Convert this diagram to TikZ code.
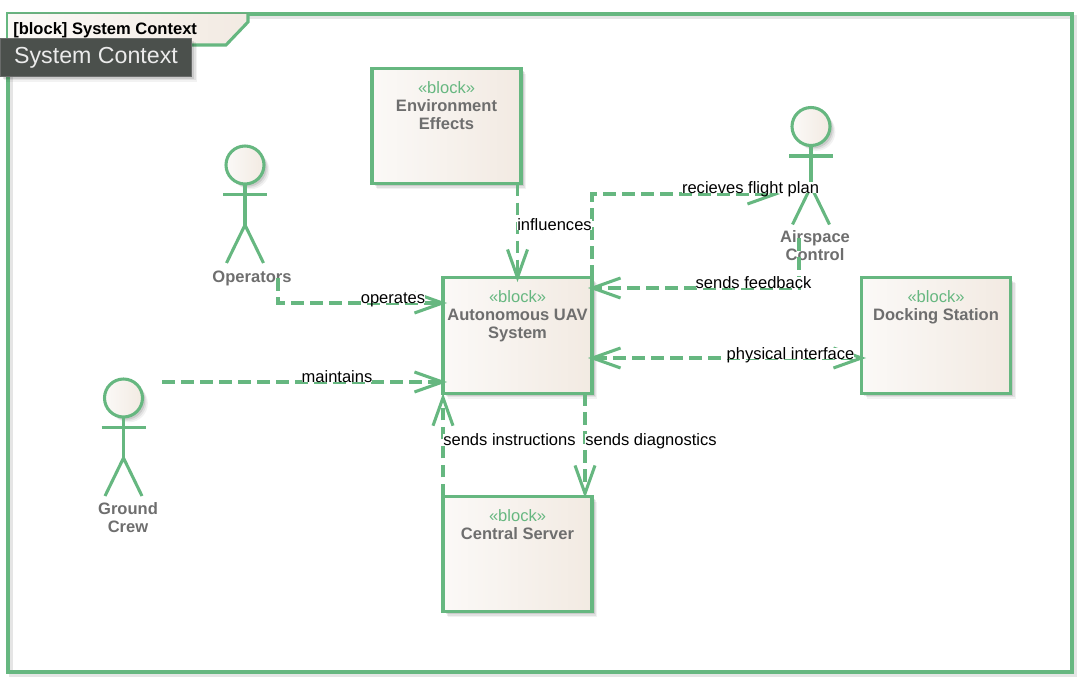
\documentclass[tikz,border=0pt]{standalone}
\usepackage{fontspec}
\setmainfont{Liberation Sans}
\usetikzlibrary{positioning}
\usetikzlibrary{arrows.meta}
\usetikzlibrary{shadows}
\definecolor{linegreen}{HTML}{66B780}
\definecolor{creamleft}{HTML}{FBF9F7}
\definecolor{creamright}{HTML}{F2EAE2}
\definecolor{namegray}{HTML}{6E6E6E}
\definecolor{tipdark}{HTML}{4B504C}
\tikzset{
	softshadow/.style={
		general shadow={shadow xshift=4pt, shadow yshift=-4pt, fill=black, opacity=0.05},
		general shadow={shadow xshift=3pt, shadow yshift=-3pt, fill=black, opacity=0.07},
		general shadow={shadow xshift=2pt, shadow yshift=-2pt, fill=black, opacity=0.10}},
	barb/.tip={Straight Barb[length=21pt,width=15pt,line width=2.3pt]},
	blockbox/.style={softshadow, draw=linegreen, line width=2.3pt, rectangle, outer sep=0pt, inner sep=0pt, left color=creamleft, right color=creamright, minimum width=111.75pt, minimum height=86.5pt},
	blocktext/.style={anchor=north, inner sep=0pt, yshift=-9.5pt, align=center, text=namegray, font=\bfseries\fontsize{12.4}{13.5}\selectfont},
	actorhead/.style={softshadow, draw=linegreen, line width=2.3pt, circle, outer sep=0pt, inner sep=0pt, left color=creamleft, right color=creamright, minimum size=28.5pt},
	actorname/.style={anchor=center, align=center, text=namegray, inner sep=0pt, font=\bfseries\fontsize{12.4}{13.5}\selectfont},
	flow/.style={draw=linegreen, line width=2.3pt, dash pattern=on 9.5pt off 4.75pt, -barb},
	bothflow/.style={flow, barb-barb},
	flowlabel/.style={anchor=base, fill=white, inner sep=0pt, text=black, text height=8.5pt, text depth=0pt, font=\fontsize{12.4}{13.5}\selectfont},
	stick/.pic={
		\node[actorhead] (-head) at (0,0) {};
		\draw[linegreen, line width=2.3pt] (-head.south) -- (0,60);
		\draw[linegreen, line width=2.3pt] (-22,29.5) -- (22,29.5);
		\draw[linegreen, line width=2.3pt] (-18.5,98) -- (0,60) -- (18.5,98);
	},
}
\newcommand{\stereo}{{\color{linegreen}\mdseries «block»}}
\begin{document}
\begin{tikzpicture}[x=0.75pt, y=-0.75pt]
	\useasboundingbox (0,0) rectangle (1080,684);

	\draw[black!10, line width=2.5pt] (11,17) rectangle (1075,675);
	\node[draw=linegreen, line width=2.3pt, rectangle, outer sep=0pt, minimum width=798pt, minimum height=493.5pt] (frame) at (540,343) {};
	\fill[left color=creamleft, right color=creamright] (frame.north west) -- (248,14) -- (248,22) -- (226,45) -- (8,45) -- cycle;
	\draw[linegreen, line width=2.3pt] (248,14) -- (248,22) -- (226,45) -- (8,45);
	\node[anchor=base west, inner sep=0pt, font=\bfseries\fontsize{12.4}{13.5}\selectfont] (frametitle) at (13,34.5) {[block] System Context};
	\node[softshadow, anchor=north west, fill=tipdark, draw=black!45!tipdark!70!white, line width=0.5pt, inner sep=0pt, minimum width=143.5pt, minimum height=28.5pt, text height=9pt, text depth=0pt, text=white!92!black, font=\fontsize{17.4}{18}\selectfont] (tooltip) at (0,38) {System Context};

	\node[blockbox, label={[blocktext]north:{\stereo\\Environment\\Effects}}] (env) at (446.5,126) {};
	\node[blockbox, label={[blocktext]north:{\stereo\\Autonomous UAV\\System}}] (uav) at (517.5,335.5) {};
	\node[blockbox, label={[blocktext]north:{\stereo\\Docking Station}}] (dock) at (936,335.5) {};
	\node[blockbox, label={[blocktext]north:{\stereo\\Central Server}}] (central) at (517.5,554) {};

	\pic (operators) at (245,165) {stick};
	\pic (airspace) at (811,126.5) {stick};
	\pic (crew) at (123.5,398) {stick};
	\node[actorname] (operatorsname) at (252,278) {Operators};
	\node[actorname] (airspacename) at (815,246) {Airspace\\Control};
	\node[actorname] (crewname) at (128,517.5) {Ground\\Crew};

	\coordinate (uavtop) at (517.5,282);
	\coordinate (opfoot) at (278,278);
	\coordinate (uavop) at (447,303);
	\coordinate (crewout) at (162,382);
	\coordinate (uavcrew) at (447,382);
	\coordinate (diagtop) at (585,393);
	\coordinate (diagend) at (585,498);
	\coordinate (airhand) at (780,194);
	\coordinate (airleg) at (799,238);
	\coordinate (uavfeed) at (588,288);
	\coordinate (uavphys) at (588,358);
	\coordinate (dockphys) at (866,358);

	\draw[flow] (env.south -| uavtop) -- (uavtop);
	\draw[flow] (opfoot) |- (uavop);
	\draw[flow] (crewout) -- (uavcrew);
	\draw[flow] (central.north west) -- (uav.south west);
	\draw[flow] (diagtop) -- (diagend);
	\draw[flow] (uav.north east) |- (airhand);
	\draw[flow] (airleg) |- (uavfeed);
	\draw[bothflow] (uavphys) -- (dockphys);

	\node[flowlabel] (influences) at (554.5,230) {influences};
	\node[flowlabel] (operates) at (393,303) {operates};
	\node[flowlabel] (maintains) at (337,382) {maintains};
	\node[flowlabel] (instructions) at (509.5,445) {sends instructions};
	\node[flowlabel] (diagnostics) at (651,445) {sends diagnostics};
	\node[flowlabel] (flightplan) at (750.5,193.5) {recieves flight plan};
	\node[flowlabel] (feedback) at (753.5,288) {sends feedback};
	\node[flowlabel] (interface) at (790.5,359) {physical interface};
\end{tikzpicture}
\end{document}
